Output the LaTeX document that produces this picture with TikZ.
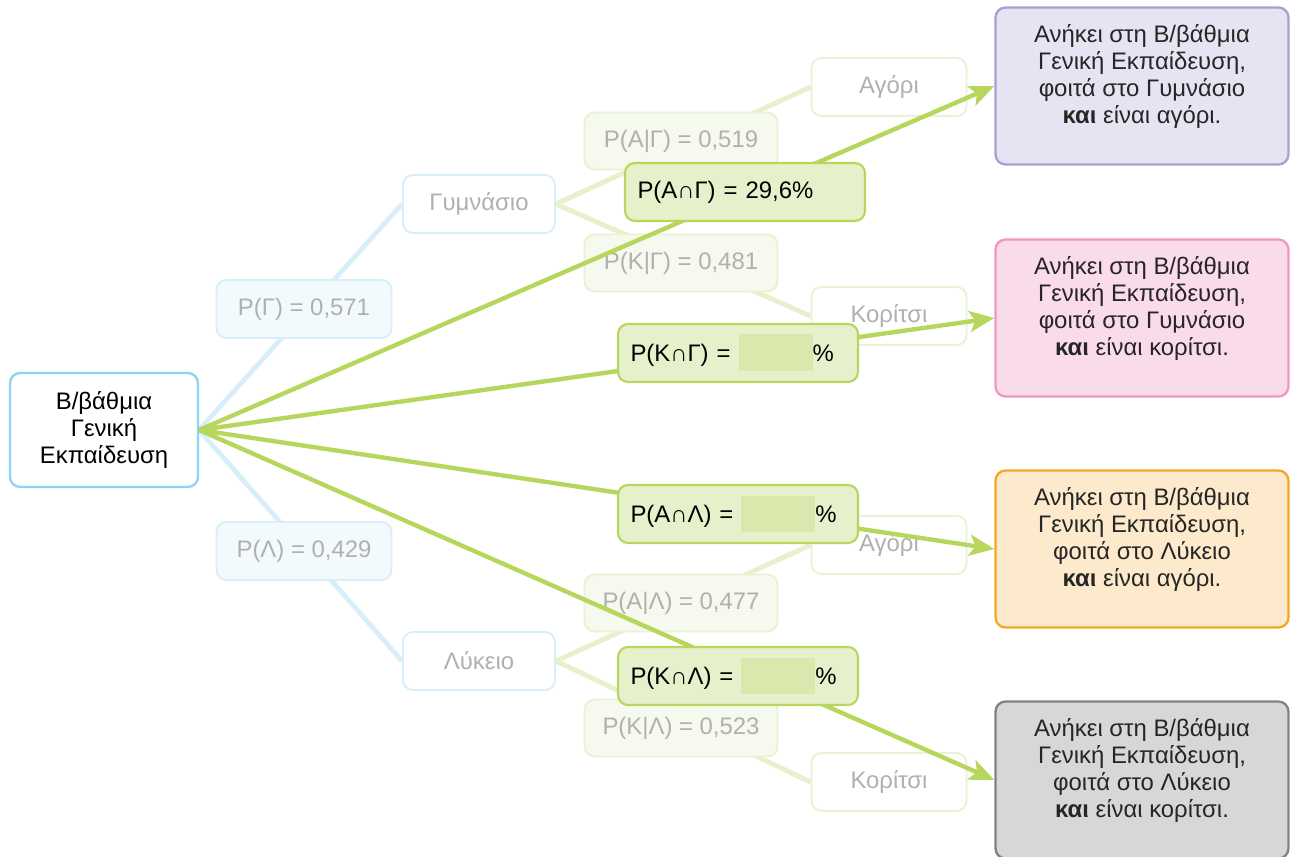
\documentclass[tikz,border=0pt]{standalone}
\usepackage{fontspec}
\setmainfont{Liberation Sans}
\usepackage{tikz}
\usetikzlibrary{arrows.meta,positioning,backgrounds}
\usepackage{xcolor}

\definecolor{rizample}{HTML}{8DD3F2}
\definecolor{anoixtomple}{HTML}{D8EFFA}
\definecolor{gemisample}{HTML}{F3FAFE}
\definecolor{anoixtoprasino}{HTML}{E8F0CE}
\definecolor{gemisaprasino}{HTML}{F6F9EE}
\definecolor{perigrammaprasino}{HTML}{EAF2D5}
\definecolor{entonoprasino}{HTML}{B7D65C}
\definecolor{kouti}{HTML}{E6F0CA}
\definecolor{keno}{HTML}{D9E9AD}
\definecolor{gkri}{HTML}{B0B0B0}
\definecolor{mov}{HTML}{E6E4F2}
\definecolor{movgrammi}{HTML}{A89ED1}
\definecolor{roz}{HTML}{FADBE9}
\definecolor{rozgrammi}{HTML}{EF97BF}
\definecolor{portokali}{HTML}{FDE9CB}
\definecolor{portokaligrammi}{HTML}{F5A623}
\definecolor{stahti}{HTML}{D6D7D9}
\definecolor{stahtigrammi}{HTML}{808285}

\newcommand{\kenokouti}{{\color{keno}\rule[-0.2cm]{1.48cm}{0.74cm}}}

\begin{document}
\begin{tikzpicture}[x=0.02cm,y=-0.02cm,
  every node/.style={font=\fontsize{13.6}{15.4}\selectfont},
  riza/.style={draw=rizample, fill=white, line width=1.3pt, rounded corners=0.2cm, minimum width=3.76cm, minimum height=2.28cm, align=center},
  tmima/.style={draw=anoixtomple, fill=white, line width=1.1pt, rounded corners=0.2cm, minimum width=3.04cm, minimum height=1.16cm, text=gkri},
  pithmple/.style={draw=anoixtomple, fill=gemisample, line width=1.1pt, rounded corners=0.2cm, minimum width=3.5cm, minimum height=1.16cm, text=gkri},
  pithprasini/.style={draw=perigrammaprasino, fill=gemisaprasino, line width=1.1pt, rounded corners=0.2cm, minimum width=3.86cm, minimum height=1.14cm, text=gkri},
  fylo/.style={draw=perigrammaprasino, fill=white, line width=1.1pt, rounded corners=0.2cm, minimum width=3.1cm, minimum height=1.16cm, text=gkri},
  tomi/.style={draw=entonoprasino, fill=kouti, line width=1.2pt, rounded corners=0.2cm, minimum height=1.16cm, text width=4.3cm, inner xsep=0.25cm, align=left},
  apotelesma/.style={line width=1.3pt, rounded corners=0.2cm, minimum width=5.86cm, minimum height=3.14cm},
  apotkeimeno/.style={align=center, text=black!85},
  mplegrammi/.style={anoixtomple, line width=2.8pt},
  prasinogrammi/.style={anoixtoprasino, line width=2.8pt},
  velos/.style={entonoprasino, line width=2.5pt, -{Stealth[length=0.5cm, width=0.42cm, inset=0.12cm]}}
]
\useasboundingbox (0,0) rectangle (1290,857);

% dentro
\node[riza] (riza) at (104,430) {Β/βάθμια\\Γενική\\Εκπαίδευση};
\node[tmima] (gym) at (479,204) {Γυμνάσιο};
\node[tmima] (lyk) at (479,661) {Λύκειο};
\node[fylo] (agori1) at (889,87) {Αγόρι};
\node[fylo] (koritsi1) at (889,316) {Κορίτσι};
\node[fylo] (agori2) at (889,545) {Αγόρι};
\node[fylo] (koritsi2) at (889,782) {Κορίτσι};

\begin{scope}[on background layer]
\draw[mplegrammi] (riza.east) -- (gym.west);
\draw[mplegrammi] (riza.east) -- (lyk.west);
\draw[prasinogrammi] (gym.east) -- (agori1.west);
\draw[prasinogrammi] (gym.east) -- (koritsi1.west);
\draw[prasinogrammi] (lyk.east) -- (agori2.west);
\draw[prasinogrammi] (lyk.east) -- (koritsi2.west);
\end{scope}

% pithanotites
\node[pithmple] (pG) at (304,309) {P(Γ) = 0,571};
\node[pithmple] (pL) at (304,551) {P(Λ) = 0,429};
\node[pithprasini] (pAG) at (681,141) {P(Α|Γ) = 0,519};
\node[pithprasini] (pKG) at (681,263) {P(Κ|Γ) = 0,481};
\node[pithprasini] (pAL) at (681,603) {P(Α|Λ) = 0,477};
\node[pithprasini] (pKL) at (681,728) {P(Κ|Λ) = 0,523};

% apotelesmata
\node[apotelesma, draw=movgrammi, fill=mov] (apot1) at (1142,86) {};
\node[apotelesma, draw=rozgrammi, fill=roz] (apot2) at (1142,318) {};
\node[apotelesma, draw=portokaligrammi, fill=portokali] (apot3) at (1142,549) {};
\node[apotelesma, draw=stahtigrammi, fill=stahti] (apot4) at (1142,780) {};
\node[apotkeimeno] (apot1k) at ([yshift=0.19cm]apot1.center) {Ανήκει στη Β/βάθμια\\Γενική Εκπαίδευση,\\φοιτά στο Γυμνάσιο\\\textbf{και} είναι αγόρι.};
\node[apotkeimeno] (apot2k) at ([yshift=0.19cm]apot2.center) {Ανήκει στη Β/βάθμια\\Γενική Εκπαίδευση,\\φοιτά στο Γυμνάσιο\\\textbf{και} είναι κορίτσι.};
\node[apotkeimeno] (apot3k) at ([yshift=0.19cm]apot3.center) {Ανήκει στη Β/βάθμια\\Γενική Εκπαίδευση,\\φοιτά στο Λύκειο\\\textbf{και} είναι αγόρι.};
\node[apotkeimeno] (apot4k) at ([yshift=0.19cm]apot4.center) {Ανήκει στη Β/βάθμια\\Γενική Εκπαίδευση,\\φοιτά στο Λύκειο\\\textbf{και} είναι κορίτσι.};

% velh
\draw[velos] (riza.east) -- (apot1.west);
\draw[velos] (riza.east) -- (apot2.west);
\draw[velos] (riza.east) -- (apot3.west);
\draw[velos] (riza.east) -- (apot4.west);

% tomes
\node[tomi] (tAG) at (745,192) {P(Α∩Γ) = 29,6\%};
\node[tomi] (tKG) at (738,353) {P(Κ∩Γ) = \kenokouti\%};
\node[tomi] (tAL) at (738,514) {P(Α∩Λ) = \kenokouti\%};
\node[tomi] (tKL) at (738,676) {P(Κ∩Λ) = \kenokouti\%};

\end{tikzpicture}
\end{document}
